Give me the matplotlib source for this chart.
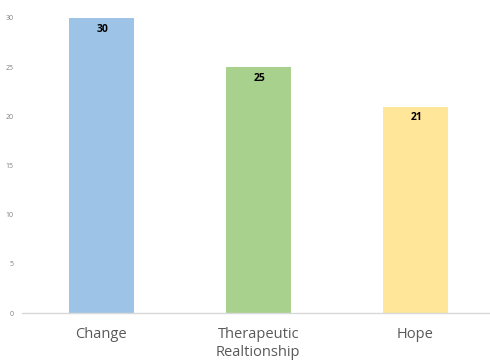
import matplotlib
matplotlib.use("Agg")
import matplotlib.pyplot as plt

categories = ["Change", "Therapeutic\nRealtionship", "Hope"]
values = [30, 25, 21]
colors = ["#9DC3E6", "#A9D18E", "#FFE699"]
yticks = [0, 5, 10, 15, 20, 25, 30]

fig = plt.figure(figsize=(4.9, 3.61), dpi=100)
ax = fig.add_axes([22/490, 48/361, 468/490, 295/361])
x = list(range(len(categories)))
bars = ax.bar(x, values, width=0.41, color=colors)
for xi, v in zip(x, values):
    ax.text(xi + 0.005, v - 1.15, str(v), ha="center", va="center", fontsize=7.5,
            fontweight="bold", color="black", family="Open Sans")
ax.set_xlim(-0.505, 2.475)
ax.set_ylim(0, 30)
ax.set_yticks(yticks)
ax.set_yticklabels([str(t) for t in yticks], fontsize=5, color="#808080", family="Open Sans")
ax.set_xticks(x)
ax.set_xticklabels(categories, fontsize=10.5, color="#595959", family="Open Sans", linespacing=1.3)
ax.tick_params(axis="both", length=0)
ax.tick_params(axis="x", pad=10)
ax.tick_params(axis="y", pad=6)
for s in ["top", "right", "left"]:
    ax.spines[s].set_visible(False)
ax.spines["bottom"].set_color("#D9D9D9")
ax.spines["bottom"].set_linewidth(1)
fig.savefig("out.png", dpi=100)
